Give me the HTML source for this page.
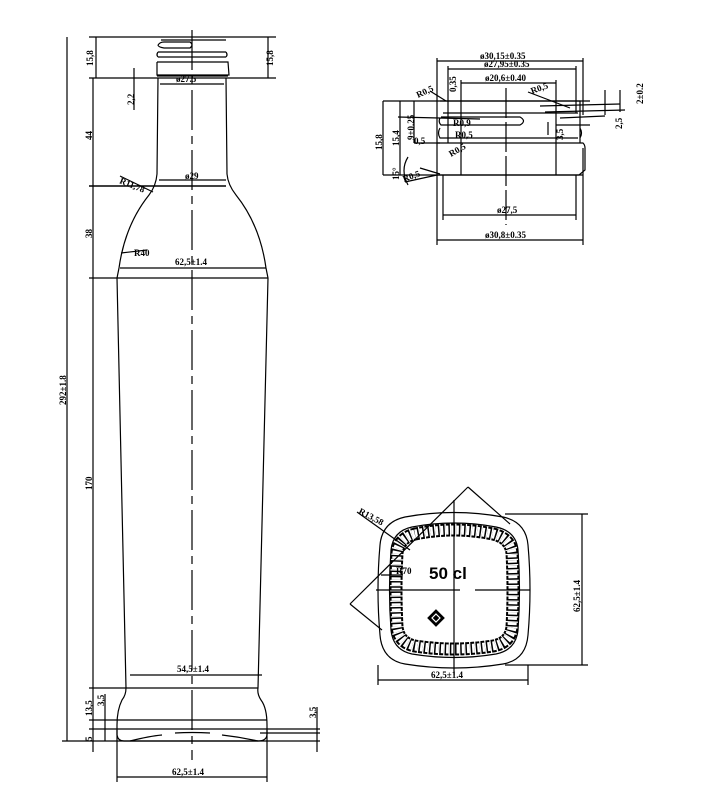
<!DOCTYPE html>
<html><head><meta charset="utf-8"><style>
html,body{margin:0;padding:0;background:#fff;}
svg{display:block;}
text{font-family:"Liberation Serif",serif;font-size:9px;font-weight:bold;fill:#000;}
</style></head><body>
<svg width="708" height="798" viewBox="0 0 708 798" xmlns="http://www.w3.org/2000/svg" stroke="#000" fill="none" stroke-width="1.2">
<line x1="192" y1="30" x2="192" y2="760" stroke-dasharray="40,6,8,6"/>
<path d="M161 40 L226 40 M158 45 Q160 42 164 42 L190 42 Q194 45 190 48 L164 48 Q158 47 158 45 M158 52 L226 52 M158 57 L226 57 M158 52 Q156 55 158 57 M226 52 Q228 55 226 57 M157 62 L228 62 L229 75 L157 75 L157 62"/>
<line x1="157" y1="76" x2="228" y2="76"/>
<path d="M158 78 L157 174 Q156 186 149 195 Q125 225 119 268 L117 278 L126 688 Q126 695 122 700 Q117 710 117 725 L117 735 Q118 741 124 741 L258 741 Q267 741 267 734 L267 725 Q267 708 261 700 Q257 694 258 688 L268 278 L266 268 Q260 225 236 195 Q228 185 227 174 L226 78"/>
<path d="M130 741 Q150 736 162 735 M175 733 Q192 732 210 733 M222 735 Q240 737 258 741"/>
<line x1="89" y1="37" x2="276" y2="37"/>
<line x1="89" y1="78" x2="276" y2="78"/>
<line x1="89" y1="186" x2="226" y2="186" stroke-width="1.5"/>
<line x1="89" y1="278" x2="268" y2="278"/>
<line x1="89" y1="688" x2="258" y2="688"/>
<line x1="89" y1="720" x2="267" y2="720"/>
<line x1="89" y1="729" x2="320" y2="729"/>
<line x1="260" y1="733" x2="320" y2="733"/>
<line x1="62" y1="741" x2="320" y2="741"/>
<line x1="67" y1="37" x2="67" y2="741"/>
<line x1="96" y1="37" x2="96" y2="78"/>
<line x1="93" y1="78" x2="93" y2="186"/>
<line x1="93" y1="186" x2="93" y2="278"/>
<line x1="93" y1="278" x2="93" y2="688"/>
<line x1="93" y1="688" x2="93" y2="752"/>
<line x1="105" y1="694" x2="105" y2="741"/>
<line x1="134" y1="68" x2="134" y2="110"/>
<line x1="268" y1="37" x2="268" y2="78"/>
<line x1="317" y1="707" x2="317" y2="752"/>
<line x1="160" y1="84" x2="224" y2="84"/>
<line x1="159" y1="180" x2="226" y2="180"/>
<line x1="120" y1="268" x2="266" y2="268"/>
<line x1="130" y1="675" x2="262" y2="675"/>
<line x1="117" y1="777" x2="267" y2="777"/>
<line x1="117" y1="730" x2="117" y2="782"/>
<line x1="267" y1="730" x2="267" y2="782"/>
<line x1="120" y1="176" x2="153" y2="192"/>
<line x1="121" y1="253" x2="147" y2="250"/>
<g stroke="none" fill="#000">
<text x="176" y="82">ø27.5</text>
<text x="185" y="179">ø29</text>
<text x="175" y="265">62,5±1.4</text>
<text x="177" y="672">54,5±1.4</text>
<text x="172" y="775">62,5±1.4</text>
<text x="119" y="183" transform="rotate(22 119 183)">R11,78</text>
<text x="134" y="256">R40</text>
<text transform="translate(93 66) rotate(-90)">15,8</text>
<text transform="translate(273 66) rotate(-90)">15,8</text>
<text transform="translate(134 105) rotate(-90)">2,2</text>
<text transform="translate(92 140) rotate(-90)">44</text>
<text transform="translate(92 238) rotate(-90)">38</text>
<text transform="translate(66 405) rotate(-90)">292±1.8</text>
<text transform="translate(92 490) rotate(-90)">170</text>
<text transform="translate(92 716) rotate(-90)">13,5</text>
<text transform="translate(104 706) rotate(-90)">3,5</text>
<text transform="translate(92 741) rotate(-90)">5</text>
<text transform="translate(316 718) rotate(-90)">3,5</text>
</g>
<path d="M440 101 L580 101 L580 143 L437 143 L437 101 M443 113 L578 113 M440 118 Q438 122 441 125 L520 125 Q527 121 520 117 L441 117 M440 128 Q437 133 440 138 L578 138 M580 128 Q583 133 580 138 M437 143 L583 143 Q585 145 585 148 L585 170 L579 175 L437 175"/>
<line x1="383" y1="101" x2="590" y2="101"/>
<line x1="383" y1="175" x2="583" y2="175"/>
<line x1="443" y1="175" x2="443" y2="220"/><line x1="576" y1="175" x2="576" y2="220"/>
<line x1="437" y1="143" x2="437" y2="245"/><line x1="583" y1="148" x2="583" y2="245"/>
<line x1="437" y1="58" x2="437" y2="101"/><line x1="583" y1="58" x2="583" y2="115"/>
<line x1="448" y1="66" x2="448" y2="143"/><line x1="576" y1="66" x2="576" y2="113"/>
<line x1="461" y1="80" x2="461" y2="175"/><line x1="556" y1="80" x2="556" y2="175"/>
<line x1="506" y1="88" x2="506" y2="225" stroke-dasharray="30,4"/>
<line x1="437" y1="61" x2="583" y2="61"/>
<line x1="448" y1="69" x2="576" y2="69"/>
<line x1="461" y1="83" x2="556" y2="83"/>
<line x1="443" y1="215" x2="576" y2="215"/>
<line x1="437" y1="240" x2="583" y2="240"/>
<line x1="383" y1="101" x2="383" y2="175"/>
<line x1="400" y1="101" x2="400" y2="175"/>
<line x1="414" y1="101" x2="414" y2="143"/>
<line x1="414" y1="143" x2="440" y2="143"/>
<line x1="398" y1="117" x2="480" y2="119"/>
<line x1="620" y1="90" x2="620" y2="112"/><line x1="605" y1="90" x2="605" y2="115"/>
<line x1="540" y1="106" x2="620" y2="104"/><line x1="545" y1="112" x2="625" y2="110"/>
<line x1="560" y1="118" x2="605" y2="116"/>
<line x1="548" y1="122" x2="548" y2="135"/><line x1="556" y1="125" x2="590" y2="125"/>
<line x1="430" y1="91" x2="446" y2="101"/>
<line x1="528" y1="92" x2="570" y2="108"/>
<line x1="420" y1="168" x2="440" y2="174"/>
<line x1="405" y1="182" x2="437" y2="175"/>
<path d="M408 157 Q400 170 408 185"/>
<g stroke="none" fill="#000">
<text x="480" y="59">ø30,15±0.35</text>
<text x="484" y="67">ø27,95±0.35</text>
<text x="485" y="81">ø20,6±0.40</text>
<text x="497" y="213">ø27,5</text>
<text x="485" y="238">ø30,8±0.35</text>
<text x="418" y="98" transform="rotate(-25 418 98)">R0,5</text>
<text x="532" y="94" transform="rotate(-20 532 94)">R0,5</text>
<text x="451" y="157" transform="rotate(-30 451 157)">R0,5</text>
<text x="404" y="182" transform="rotate(-20 404 182)">R0,5</text>
<text x="453" y="126">R0,9</text>
<text x="455" y="138">R0,5</text>
<text transform="translate(456 92) rotate(-90)">0,35</text>
<text transform="translate(382 150) rotate(-90)">15,8</text>
<text transform="translate(399 146) rotate(-90)">15,4</text>
<text transform="translate(414 140) rotate(-90)">9±0.25</text>
<text x="414" y="144">0,5</text>
<text transform="translate(399 180) rotate(-90)">15°</text>
<text transform="translate(643 104) rotate(-90)">2±0.2</text>
<text transform="translate(622 129) rotate(-90)">2,5</text>
<text transform="translate(563 140) rotate(-90)">3,5</text>
</g>
<path d="M405 517 Q454 508 503 517 Q526 522 528 545 Q532 590 528 635 Q526 660 503 664 Q454 672 405 664 Q382 660 380 635 Q376 590 380 545 Q382 522 405 517 Z"/>
<path d="M412 527 Q454 519 496 527 Q516 531 518 550 Q521 590 518 630 Q516 650 496 654 Q454 661 412 654 Q393 650 391 630 Q388 590 391 550 Q393 531 412 527 Z"/>
<path d="M415 534 Q454 526 493 534 Q510 538 512 553 Q514 590 512 627 Q510 643 493 646 Q454 652 415 646 Q399 643 397 627 Q395 590 397 553 Q399 538 415 534 Z" stroke-width="13" stroke-dasharray="4,1.2"/>
<path d="M415 534 Q454 526 493 534 Q510 538 512 553 Q514 590 512 627 Q510 643 493 646 Q454 652 415 646 Q399 643 397 627 Q395 590 397 553 Q399 538 415 534 Z" stroke-width="9" stroke="#fff" stroke-dasharray="2.5,2.7"/>
<line x1="454" y1="500" x2="454" y2="675"/>
<line x1="376" y1="590" x2="460" y2="590"/><line x1="475" y1="590" x2="530" y2="590"/>
<line x1="378" y1="665" x2="378" y2="685"/><line x1="528" y1="665" x2="528" y2="685"/>
<line x1="378" y1="680" x2="528" y2="680"/>
<line x1="505" y1="514" x2="588" y2="514"/><line x1="505" y1="665" x2="588" y2="665"/>
<line x1="582" y1="514" x2="582" y2="665"/>
<line x1="468" y1="487" x2="510" y2="524"/>
<line x1="468" y1="487" x2="350" y2="604"/>
<line x1="350" y1="604" x2="382" y2="630"/>
<line x1="357" y1="512" x2="410" y2="550"/>
<line x1="381" y1="575" x2="403" y2="575"/>
<path d="M436 610 L444 618 L436 626 L428 618 Z" fill="#000"/>
<path d="M436 614 L440 618 L436 622 L432 618 Z" stroke="#fff"/>
<g stroke="none" fill="#000">
<text x="429" y="579" style="font-family:'Liberation Sans',sans-serif;font-size:17px;font-weight:bold">50 cl</text>
<text x="431" y="678">62,5±1.4</text>
<text x="358" y="513" transform="rotate(28 358 513)">R13,58</text>
<text x="396" y="574">R70</text>
<text transform="translate(580 612) rotate(-90)">62,5±1.4</text>
</g>
</svg>
</body></html>
